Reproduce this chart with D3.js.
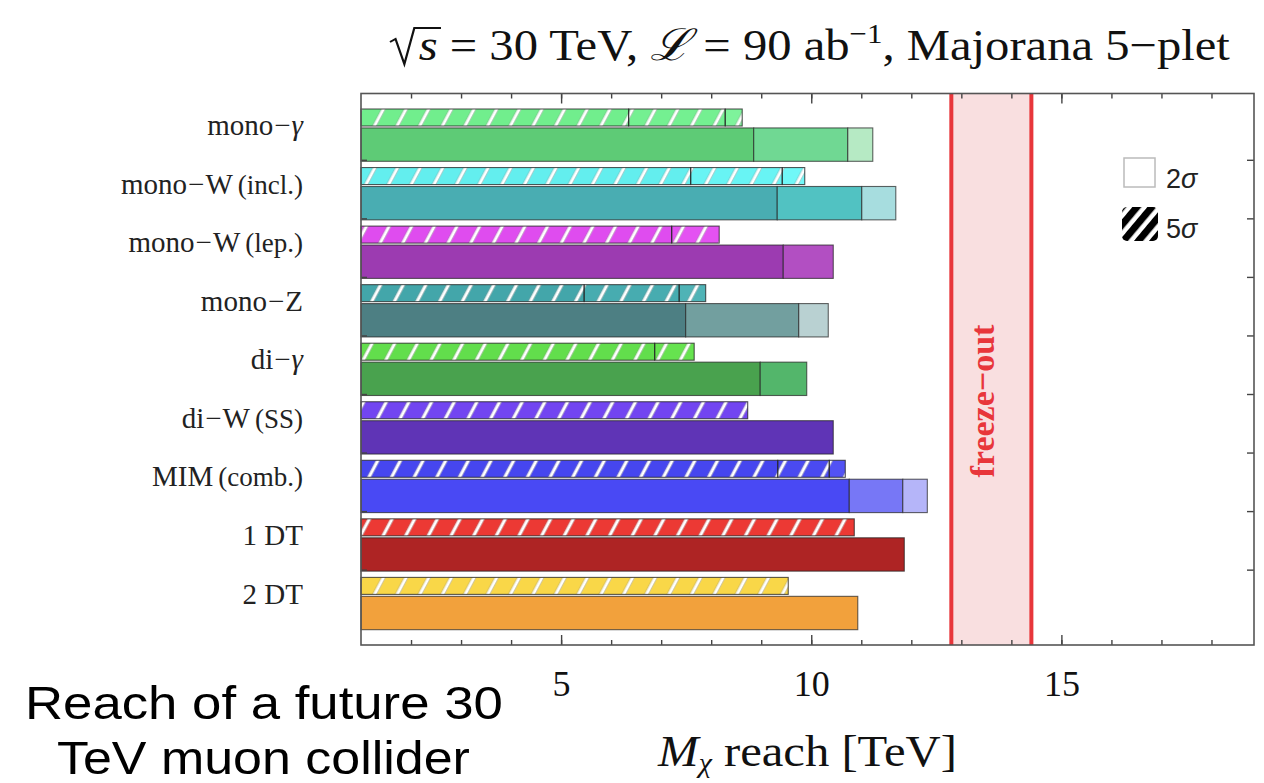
<!DOCTYPE html>
<html><head><meta charset="utf-8">
<script src="https://cdn.jsdelivr.net/npm/d3@7"></script>
<style>body{margin:0;background:#fff} svg{display:block}</style>
</head><body>
<svg id="c" width="1264" height="783"></svg>
<script>
// ---------- data ----------
const categories = ["mono−γ","mono−W (incl.)","mono−W (lep.)","mono−Z","di−γ","di−W (SS)","MIM (comb.)","1 DT","2 DT"];
// 5σ reach (TeV), cumulative segment ends
const reach5 = [[6.35,8.28,8.62],[7.59,9.42,9.87],[7.21,8.16],[5.46,7.36,7.89],[6.87,7.66],[8.73],[9.33,10.36,10.68],[10.86],[9.54]];
// 2σ reach (TeV), cumulative segment ends
const reach2 = [[8.85,10.73,11.23],[9.32,11.01,11.69],[9.44,10.44],[7.49,9.75,10.34],[8.98,9.91],[10.44],[10.76,11.83,12.32],[11.86],[10.93]];
const solidColors = [["#5ecb76","#70d893","#b6eac4"],["#49adb2","#51c2c2","#a7dddf"],["#9c3bb1","#b24fc2"],["#4d7f83","#729f9f","#b9d1d2"],["#49a24e","#53b66b"],["#5f34b6"],["#4949f4","#7777f6","#b5b5f9"],["#ae2424"],["#f2a13c"]];
const hatchColors = [["#71ee8d","#74f091","#7ef39b"],["#63eeee","#68f4f4","#70f8f8"],["#df4cef","#e452f2"],["#43a6aa","#47acb0","#4fb3b6"],["#62de4c","#66e34f"],["#7245f1"],["#4646ef","#4a4af1","#5252f4"],["#ec3934"],["#f9d748"]];
const xDomain = [1, 18.85];
const xMajorTicks = [5, 10, 15];
const xMinorTicks = d3.range(2, 19);
const freezeOut = [12.8, 14.4];

// ---------- layout ----------
const serif = "'Liberation Serif','Times New Roman',serif";
const sans = "'Liberation Sans',Arial,sans-serif";
const L = 361, R = 1254, T = 93.5, B = 645;
const svg = d3.select("#c");
const x = d3.scaleLinear().domain(xDomain).range([L, R]);
const y = d3.scaleBand().domain(categories).range([105.875, 632.825]).paddingInner(0.1067).paddingOuter(0.0534);
const bw = y.bandwidth();
const hatchH = bw * 0.325, gapH = bw * 0.037;

function fitX(g, left, right) {
  const b = g.node().getBBox();
  const k = (right - left) / b.width;
  g.attr("transform", `translate(${left - b.x * k},0) scale(${k},1)`);
}

const defs = svg.append("defs");
const pat = defs.append("pattern").attr("id","hatch").attr("patternUnits","userSpaceOnUse")
  .attr("width",20).attr("height",20).attr("patternTransform","rotate(28)");
pat.append("rect").attr("x",7.6).attr("y",0).attr("width",4.4).attr("height",20).attr("fill","#888").attr("opacity",0.5);
pat.append("rect").attr("x",8.3).attr("y",0).attr("width",3).attr("height",20).attr("fill","#fff");
const patL = defs.append("pattern").attr("id","hatchL").attr("patternUnits","userSpaceOnUse")
  .attr("width",11.5).attr("height",20).attr("patternTransform","rotate(40)");
patL.append("rect").attr("x",0).attr("y",0).attr("width",7).attr("height",20).attr("fill","#000");

// freeze-out band
svg.append("rect").attr("x", x(freezeOut[0])).attr("y", T).attr("width", x(freezeOut[1]) - x(freezeOut[0]))
  .attr("height", B - T).attr("fill", "#f9dfe0");
freezeOut.forEach(v => svg.append("line").attr("x1", x(v)).attr("x2", x(v)).attr("y1", T).attr("y2", B)
  .attr("stroke", "#e8363b").attr("stroke-width", 4));
svg.append("text").attr("transform", `translate(${(x(freezeOut[0]) + x(freezeOut[1])) / 2 + 3},401) rotate(-90)`)
  .attr("text-anchor","middle").attr("font-family",serif).attr("font-weight","bold").attr("font-size",34)
  .attr("fill","#e8363b").text("freeze−out");

// bars
const gBars = svg.append("g");
categories.forEach((c, i) => {
  const y0 = y(c);
  let prev = xDomain[0];
  reach2[i].forEach((v, k) => {
    gBars.append("rect").attr("x", x(prev)).attr("y", y0 + hatchH + gapH).attr("width", x(v) - x(prev))
      .attr("height", bw - hatchH - gapH).attr("fill", solidColors[i][k])
      .attr("stroke", "#222").attr("stroke-opacity", 0.7).attr("stroke-width", 1.1);
    prev = v;
  });
  prev = xDomain[0];
  reach5[i].forEach((v, k) => {
    gBars.append("rect").attr("x", x(prev)).attr("y", y0).attr("width", x(v) - x(prev))
      .attr("height", hatchH).attr("fill", hatchColors[i][k]);
    prev = v;
  });
  const last = reach5[i][reach5[i].length - 1];
  gBars.append("rect").attr("x", x(xDomain[0])).attr("y", y0).attr("width", x(last) - x(xDomain[0]))
    .attr("height", hatchH).attr("fill", "url(#hatch)");
  prev = xDomain[0];
  reach5[i].forEach(v => {
    gBars.append("rect").attr("x", x(prev)).attr("y", y0).attr("width", x(v) - x(prev))
      .attr("height", hatchH).attr("fill", "none")
      .attr("stroke", "#222").attr("stroke-opacity", 0.75).attr("stroke-width", 1.1);
    prev = v;
  });
});

// axes ticks (inward)
function styleAxis(g){ g.select(".domain").remove(); g.selectAll(".tick line").attr("stroke","#444").attr("stroke-width",1.4); }
svg.append("g").attr("transform",`translate(0,${B})`).call(d3.axisBottom(x).tickValues(xMinorTicks).tickSize(-5).tickFormat("")).call(styleAxis);
svg.append("g").attr("transform",`translate(0,${T})`).call(d3.axisTop(x).tickValues(xMinorTicks).tickSize(-5).tickFormat("")).call(styleAxis);
svg.append("g").attr("transform",`translate(0,${T})`).call(d3.axisTop(x).tickValues(xMajorTicks).tickSize(-10).tickFormat("")).call(styleAxis);
const xb = svg.append("g").attr("transform",`translate(0,${B})`)
  .call(d3.axisBottom(x).tickValues(xMajorTicks).tickSize(-10).tickPadding(0)).call(styleAxis);
xb.selectAll(".tick text").attr("y", 51).attr("dy", 0).attr("font-family", serif).attr("font-size", 36).attr("fill", "#111");

const yTickCats = categories.slice(0, 8);
svg.append("g").attr("transform",`translate(${L},${bw/2 - 1})`).call(d3.axisRight(y).tickValues(yTickCats).tickSize(6).tickFormat("")).call(styleAxis);
svg.append("g").attr("transform",`translate(${R},${bw/2 - 1})`).call(d3.axisLeft(y).tickValues(yTickCats).tickSize(7).tickFormat("")).call(styleAxis);

// category labels
const yl = svg.append("g").attr("transform",`translate(${L},0)`).call(d3.axisLeft(y).tickSize(0).tickPadding(58));
yl.select(".domain").remove();
yl.selectAll(".tick text").each(function(label){
  const t = d3.select(this).text(null).attr("dy", 0).attr("font-family", serif).attr("font-size", 29).attr("fill", "#222");
  const m = label.match(/^(.*?)(\s\(.*\))?$/);
  const parts = m[1].split("−");
  parts.forEach((p, k) => {
    if (k > 0) t.append("tspan").attr("dx", 1).text("−");
    t.append("tspan").attr("dx", k > 0 ? 1 : null).attr("font-style", /[γχ]/.test(p) ? "italic" : null).text(p);
  });
  if (m[2]) t.append("tspan").attr("dx", 5).attr("font-size", 27).text(m[2].trim());
});

// frame
svg.append("rect").attr("x", L).attr("y", T).attr("width", R - L).attr("height", B - T)
  .attr("fill", "none").attr("stroke", "#555").attr("stroke-width", 1.6);

// title
const tg = svg.append("g");
const tt = tg.append("text").attr("font-family", serif).attr("font-size", 44).attr("fill", "#111").attr("y", 60);
const sEl = tt.append("tspan").attr("dx", 26).attr("font-style", "italic").text("s");
tt.append("tspan").text(" = 30 TeV, ");
tt.append("tspan").attr("font-style", "italic").text("ℒ");
tt.append("tspan").text(" = 90 ab");
tt.append("tspan").attr("font-size", 28).attr("dy", -17).text("−1");
tt.append("tspan").attr("dy", 17).text(", Majorana 5−plet");
const sb = sEl.node().getBBox();
tg.append("path").attr("d", `M${sb.x-26},${42} L${sb.x-21},${39} L${sb.x-13},${64} L${sb.x-4},${28} L${sb.x+sb.width+3},${28}`)
  .attr("fill","none").attr("stroke","#111").attr("stroke-width",2);
fitX(tg, 390, 1230);

// x-axis title
const xg = svg.append("g");
const xt = xg.append("text").attr("x", 0).attr("y", 766)
  .attr("font-family", serif).attr("font-size", 44).attr("fill", "#111");
xt.append("tspan").attr("font-style","italic").text("M");
xt.append("tspan").attr("font-style","italic").attr("font-size",27).attr("dy",6).text("χ");
xt.append("tspan").attr("dy",-6).text(" reach [TeV]");
fitX(xg, 657, 957);

// legend
svg.append("rect").attr("x",1124).attr("y",158).attr("width",31).attr("height",29)
  .attr("fill","#fff").attr("stroke","#bbb").attr("stroke-width",1.5);
svg.append("text").attr("x",1166).attr("y",188).attr("font-family",sans).attr("font-size",27).attr("fill","#222")
  .call(t => { t.append("tspan").text("2"); t.append("tspan").attr("font-style","italic").text("σ"); });
svg.append("rect").attr("x",1122).attr("y",207).attr("width",36).attr("height",34).attr("rx",5).attr("fill","url(#hatchL)");
svg.append("text").attr("x",1166).attr("y",238).attr("font-family",sans).attr("font-size",27).attr("fill","#222")
  .call(t => { t.append("tspan").text("5"); t.append("tspan").attr("font-style","italic").text("σ"); });

// annotation
const a1 = svg.append("g");
a1.append("text").attr("y",719).attr("font-family",sans).attr("font-size",46).attr("fill","#000").text("Reach of a future 30");
fitX(a1, 25, 503);
const a2 = svg.append("g");
a2.append("text").attr("y",774).attr("font-family",sans).attr("font-size",46).attr("fill","#000").text("TeV muon collider");
fitX(a2, 57, 470);
</script>
</body></html>
